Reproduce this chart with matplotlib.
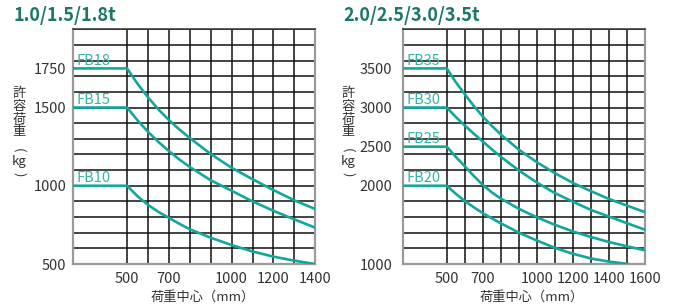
import numpy as np
import matplotlib
matplotlib.use("Agg")
import matplotlib.pyplot as plt

plt.rcParams['font.family'] = ['Noto Sans CJK JP', 'DejaVu Sans']

# 荷重中心 (mm)
centers_small = [500, 550, 600, 650, 700, 750, 800, 900, 1000, 1100, 1200, 1300, 1400]
fb18 = [1750, 1652, 1565, 1488, 1420, 1360, 1305, 1203, 1115, 1042, 972, 907, 851]
fb15 = [1500, 1418, 1345, 1280, 1222, 1168, 1120, 1035, 968, 900, 840, 785, 732]
fb10 = [1000, 933, 878, 833, 795, 757, 722, 668, 621, 580, 547, 521, 500]

centers_large = [500, 550, 600, 650, 700, 750, 800, 900, 1000, 1100, 1200, 1300, 1400, 1500, 1600]
fb35 = [3500, 3325, 3170, 3020, 2885, 2765, 2655, 2460, 2300, 2160, 2035, 1930, 1830, 1745, 1662]
fb30 = [3000, 2880, 2770, 2665, 2565, 2465, 2370, 2195, 2040, 1905, 1795, 1690, 1605, 1520, 1437]
fb25 = [2500, 2370, 2250, 2125, 2010, 1915, 1835, 1705, 1596, 1500, 1415, 1345, 1280, 1225, 1175]
fb20 = [2000, 1898, 1805, 1725, 1650, 1583, 1520, 1400, 1300, 1205, 1130, 1070, 1030, 1002]

titles = ["1.0/1.5/1.8t", "2.0/2.5/3.0/3.5t"]
# vertical y label, one piece per line: (text, rotation)
ylabel_parts = [("許", 0), ("容", 0), ("荷", 0), ("重", 0), ("(", -90), ("kg", 0), (")", -90)]
ylabel_rows = [94, 106.5, 119, 132, 150, 162, 174]   # pixel rows from top
xlabel = "荷重中心（mm）"

line_c = "#12a899"
label_c = "#35b6a8"
title_c = "#1b776b"
text_c = "#333333"

fig = plt.figure(figsize=(6.75, 3.04), dpi=100)

panels = [
    dict(rect=[72.7/675, 40/304, 242.6/675, 234.7/304], xlim=(240, 1400), ylim=(500, 2000),
         ystep=100, xmax=1400, centers=centers_small,
         series=[("FB18", fb18), ("FB15", fb15), ("FB10", fb10)],
         yticks=[500, 1000, 1500, 1750], xticks=[500, 700, 1000, 1200, 1400],
         label_x=260, ypad=4.5, title_x=13, ylab_x=19, xlab_x=203),
    dict(rect=[402.7/675, 40/304, 242.6/675, 234.7/304], xlim=(256, 1600), ylim=(1000, 4000),
         ystep=200, xmax=1600, centers=centers_large,
         series=[("FB35", fb35), ("FB30", fb30), ("FB25", fb25), ("FB20", fb20)],
         yticks=[1000, 2000, 2500, 3000, 3500], xticks=[500, 700, 1000, 1200, 1400, 1600],
         label_x=278, ypad=7.5, title_x=343, ylab_x=348, xlab_x=532),
]

for i, p in enumerate(panels):
    ax = fig.add_axes(p['rect'])
    ax.set_xlim(*p['xlim'])
    ax.set_ylim(*p['ylim'])

    # grid
    for y in np.arange(p['ylim'][0], p['ylim'][1] + 1, p['ystep']):
        ax.axhline(y, color='#111111', lw=1.1, zorder=1)
    for x in np.arange(500, p['xmax'] + 1, 100):
        ax.axvline(x, color='#111111', lw=1.1, zorder=1)

    for name, vals in p['series']:
        xs = [p['xlim'][0]] + p['centers'][:len(vals)]
        ys = [vals[0]] + vals
        ax.plot(xs, ys, color=line_c, lw=1.9, zorder=3, solid_joinstyle='round')
        ax.annotate(name, xy=(p['label_x'], vals[0]), xytext=(0, 2.5),
                    textcoords='offset points', va='baseline', ha='left',
                    color=label_c, fontsize=10.5, zorder=4)

    ax.set_yticks(p['yticks'])
    ax.set_yticklabels([str(v) for v in p['yticks']])
    ax.set_xticks(p['xticks'])
    ax.set_xticklabels([str(v) for v in p['xticks']])
    ax.tick_params(axis='both', length=0, labelsize=10.5, colors=text_c)
    ax.tick_params(axis='y', pad=p['ypad'])
    ax.tick_params(axis='x', pad=5.5)

    for s in ['left', 'bottom', 'right']:
        ax.spines[s].set_color('#9a9a9a')
        ax.spines[s].set_linewidth(1.6)
    ax.spines['top'].set_color('#333333')
    ax.spines['top'].set_linewidth(1.1)

    fig.text(p['title_x'] / 675, 1 - 21 / 304, titles[i], color=title_c,
             fontsize=13, fontweight='bold', va='baseline', ha='left')
    for (t, rot), row in zip(ylabel_parts, ylabel_rows):
        fig.text(p['ylab_x'] / 675, 1 - row / 304, t, color=text_c, fontsize=9.5,
                 va='center', ha='center', rotation=rot, rotation_mode='anchor')
    fig.text(p['xlab_x'] / 675, 1 - 301 / 304, xlabel, color=text_c, fontsize=9.5,
             va='baseline', ha='center')

fig.savefig("out.png", dpi=100)
